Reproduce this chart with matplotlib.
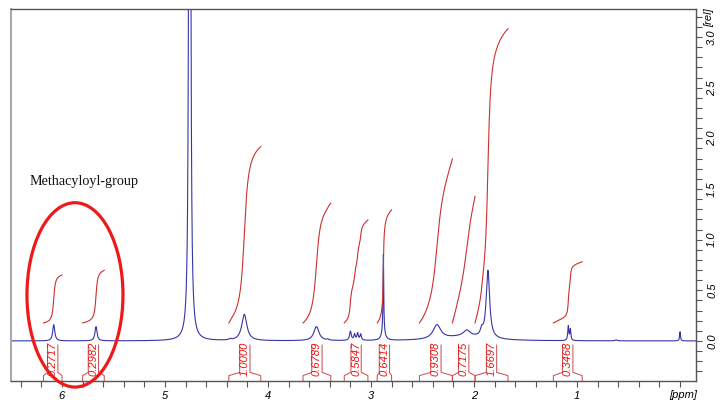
import numpy as np
import matplotlib
matplotlib.use("Agg")
import matplotlib.pyplot as plt
from matplotlib.patches import Ellipse
from matplotlib.ticker import MultipleLocator

# ---- peak table (ppm, height [rel], half width [ppm]) ----
peak_ppm = [6.08, 5.67, 4.76, 4.37, 4.23, 3.53, 3.42, 3.20, 3.16, 3.13, 3.10,
            2.88, 2.88, 2.36, 2.07, 1.925, 1.865, 2.10, 1.085, 1.065, 0.0, 0.62]
peak_height = [0.16, 0.14, 30.0, 0.01, 0.26, 0.14, 0.01, 0.09, 0.06, 0.07, 0.06,
               0.77, 0.08, 0.14, 0.06, 0.06, 0.67, 0.04, 0.14, 0.11, 0.09, 0.01]
peak_width = [0.012, 0.012, 0.0045, 0.01, 0.03, 0.03, 0.01, 0.01, 0.008, 0.008, 0.008,
              0.004, 0.02, 0.045, 0.04, 0.015, 0.02, 0.25, 0.006, 0.006, 0.005, 0.01]

# ---- integrals ----
int_start = [6.18, 5.80, 4.38, 3.66, 3.26, 2.94, 2.53, 2.21, 1.99, 1.23]
int_end = [6.00, 5.59, 4.07, 3.39, 3.03, 2.80, 2.21, 1.99, 1.67, 0.95]
int_values = [0.2717, 0.2982, 1.0000, 0.6789, 0.5847, 0.6414, 0.9308, 0.7175, 1.6697, 0.3468]

x_ticks = [0, 1, 2, 3, 4, 5, 6]
x_ticklabels = ["", "1", "2", "3", "4", "5", "6"]
y_ticks = [0.0, 0.5, 1.0, 1.5, 2.0, 2.5, 3.0]
y_ticklabels = ["0.0", "0.5", "1.0", "1.5", "2.0", "2.5", "3.0"]
annotation = "Methacyloyl-group"

SPEC_COLOR = "#3535a8"
INT_COLOR = "#cc3030"
LABEL_COLOR = "#ee1111"

fig = plt.figure(figsize=(7.2, 4.08), dpi=100)
ax = fig.add_axes([11 / 720, 1 - 381 / 408, (696 - 11) / 720, (381 - 9) / 408])

ppm = np.linspace(6.6, -0.2, 40000)
spec = np.zeros_like(ppm)
for c, h, w in zip(peak_ppm, peak_height, peak_width):
    spec += h / (1.0 + ((ppm - c) / w) ** 2)

ax.plot(ppm, spec, color=SPEC_COLOR, lw=0.8)

base = 0.178
scale = 1.74
dw = 0.05
for a, b, v in zip(int_start, int_end, int_values):
    m = (ppm <= a) & (ppm >= b)
    xs = ppm[m]
    cum = np.cumsum(spec[m])
    cum = (cum - cum[0]) / (cum[-1] - cum[0])
    ax.plot(xs, base + v * scale * cum, color=INT_COLOR, lw=0.8)
    mid = (a + b) / 2
    ax.plot([a, a, mid + dw, mid + dw], [-0.40, -0.342, -0.31, -0.04],
            color="#c84848", lw=0.7, clip_on=False)
    ax.plot([b, b, mid - dw, mid - dw], [-0.40, -0.342, -0.31, -0.04],
            color="#c84848", lw=0.7, clip_on=False)
    ax.text(mid, -0.175, f"{v:.4f}", rotation=90, ha="center", va="center",
            color=LABEL_COLOR, fontsize=8, style="italic", family="Liberation Sans")

ax.add_patch(Ellipse((5.874, 0.455), width=0.932, height=1.82, fill=False,
                     ec="#ee1a1a", lw=2.3, clip_on=False, zorder=5))
ax.text(6.31, 1.57, annotation, family="Liberation Serif", fontsize=10.2,
        ha="left", va="center", color="#111111")

ax.set_xlim(6.495, -0.155)
ax.set_ylim(-0.395, 3.277)

ax.set_xticks(x_ticks)
ax.set_xticklabels(x_ticklabels, fontsize=8, style="italic", family="Liberation Sans")
ax.xaxis.set_minor_locator(MultipleLocator(0.2))
ax.tick_params(axis="x", which="both", direction="out", length=4, width=0.8,
               color="#555555", pad=3)

ax.yaxis.tick_right()
ax.set_yticks(y_ticks)
ax.set_yticklabels(y_ticklabels, fontsize=8, style="italic", family="Liberation Sans",
                   rotation=90, va="center")
ax.yaxis.set_minor_locator(MultipleLocator(0.1))
ax.tick_params(axis="y", which="both", direction="out", length=4, width=0.8,
               color="#555555", pad=4)

for s in ["top", "right", "bottom"]:
    ax.spines[s].set_color("#555555")
    ax.spines[s].set_linewidth(1.0)
ax.spines["left"].set_color("#aaaaaa")
ax.spines["left"].set_linewidth(1.5)

ax.text(-0.03, -0.53, "[ppm]", fontsize=8, style="italic", family="Liberation Sans",
        ha="center", va="center", clip_on=False)
fig.text(709 / 720, 1 - 18 / 408, "[rel]", rotation=90, fontsize=8, style="italic",
         family="Liberation Sans", ha="center", va="center")

fig.savefig("out.png", dpi=100)
